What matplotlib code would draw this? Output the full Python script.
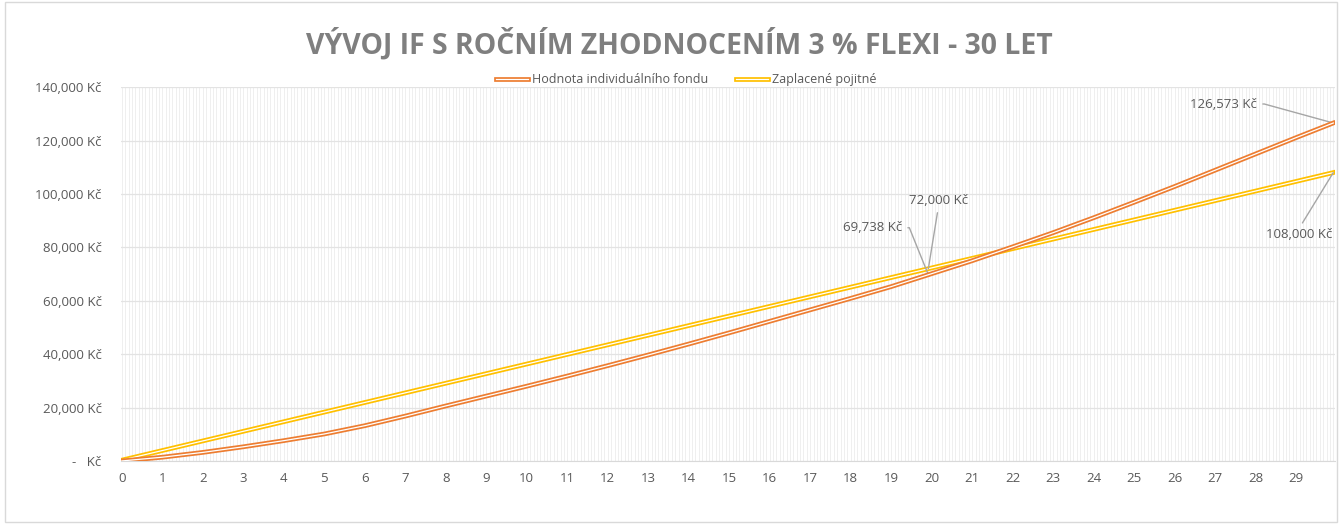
import matplotlib
matplotlib.use('Agg')
import matplotlib.pyplot as plt
import matplotlib.patheffects as pe
from matplotlib.ticker import MultipleLocator, FuncFormatter
from matplotlib.patches import Rectangle

# months since start (x axis shown in years)
months = [0, 12, 24, 36, 48, 60, 72, 84, 96, 108, 120, 132, 144, 156, 168, 180,
          192, 204, 216, 228, 239, 252, 264, 276, 288, 300, 312, 324, 336, 348, 359]
# Hodnota individuálního fondu
fund_value = [0, 1400, 3200, 5300, 7600, 10100, 13200, 16800, 20600, 24300, 28000,
              31800, 35700, 39700, 43800, 48000, 52300, 56600, 60900, 65300, 69738,
              75000, 80200, 85500, 91100, 96900, 102800, 108900, 115000, 121100, 126573]
# Zaplacené pojistné
paid_premium = [300, 3900, 7500, 11100, 14700, 18300, 21900, 25500, 29100, 32700, 36300,
                39900, 43500, 47100, 50700, 54300, 57900, 61500, 65100, 68700, 72000,
                75900, 79500, 83100, 86700, 90300, 93900, 97500, 101100, 104700, 108000]
year_ticks = list(range(0, 30))
series_names = ['Hodnota individuálního fondu', 'Zaplacené pojitné']

ORANGE = '#ED7D31'
YELLOW = '#FFC000'
TEXT = '#595959'

plt.rcParams['font.family'] = ['Open Sans', 'DejaVu Sans']

fig = plt.figure(figsize=(13.4, 5.25), dpi=100)
fig.patches.append(Rectangle((0.004, 0.006), 0.994, 0.99, transform=fig.transFigure,
                             fill=False, edgecolor='#D9D9D9', linewidth=1))
ax = fig.add_axes([0.0903, 0.122, 0.9057, 0.712])

years = [m / 12 for m in months]


def double_line(color):
    # Excel "double" compound line: thick coloured stroke with a thin white core
    return [pe.Stroke(linewidth=3.4, foreground=color), pe.Normal()]


l1, = ax.plot(years, fund_value, color='white', linewidth=0.9,
              path_effects=double_line(ORANGE), label=series_names[0], zorder=4)
l2, = ax.plot(years, paid_premium, color='white', linewidth=0.9,
              path_effects=double_line(YELLOW), label=series_names[1], zorder=3)

ax.set_xlim(-0.02, 29.95)
ax.set_ylim(0, 140000)
ax.xaxis.set_minor_locator(MultipleLocator(1 / 12))
ax.yaxis.set_major_locator(MultipleLocator(20000))
ax.set_xticks(year_ticks)
ax.set_xticklabels([str(y) for y in year_ticks])


def kc(v, pos):
    if v == 0:
        return '-   Kč'
    return f'{v:,.0f} Kč'


ax.yaxis.set_major_formatter(FuncFormatter(kc))
ax.grid(axis='x', which='both', color='#EFEFEF', linewidth=0.7)
ax.grid(axis='y', which='major', color='#E3E3E3', linewidth=0.9)
ax.set_axisbelow(True)
for s in ['top', 'right', 'left']:
    ax.spines[s].set_visible(False)
ax.spines['bottom'].set_color('#D9D9D9')
ax.tick_params(axis='both', which='both', length=0, labelsize=9.5, colors=TEXT, pad=8)
ax.tick_params(axis='y', pad=14)

fig.text(0.507, 0.915, 'VÝVOJ IF S ROČNÍM ZHODNOCENÍM 3 % FLEXI - 30 LET',
         ha='center', va='center', fontsize=20.4, fontweight='bold', color='#7F7F7F')

fig.legend(handles=[l1, l2], loc='center', bbox_to_anchor=(0.512, 0.848), ncol=2,
           frameon=False, fontsize=9, labelcolor=TEXT, handlelength=2.6,
           columnspacing=2.2, handletextpad=0.3)

lead = dict(arrowstyle='-', color='#A6A6A6', linewidth=1, shrinkA=2, shrinkB=0)
elbow = 'arc,angleA=0,armA=7,angleB=90,armB=0,rad=0'
i20 = months.index(239)
ax.annotate(f'{fund_value[i20]:,} Kč', xy=(years[i20], fund_value[i20]),
            xytext=(-26, 47), textcoords='offset pixels', ha='right', va='center',
            fontsize=9.5, color=TEXT,
            arrowprops=dict(lead, relpos=(1, 0.5), connectionstyle=elbow))
ax.annotate(f'{paid_premium[i20]:,} Kč', xy=(years[i20], paid_premium[i20]),
            xytext=(10, 68), textcoords='offset pixels', ha='center', va='center',
            fontsize=9.5, color=TEXT, arrowprops=dict(lead, relpos=(0.5, 0)))
ax.annotate(f'{fund_value[-1]:,} Kč', xy=(years[-1], fund_value[-1]),
            xytext=(-76, 19), textcoords='offset pixels', ha='right', va='center',
            fontsize=9.5, color=TEXT,
            arrowprops=dict(lead, relpos=(1, 0.5), connectionstyle=elbow))
ax.annotate(f'{paid_premium[-1]:,} Kč', xy=(years[-1], paid_premium[-1]),
            xytext=(-34, -62), textcoords='offset pixels', ha='center', va='center',
            fontsize=9.5, color=TEXT, arrowprops=dict(lead, relpos=(0.5, 1)))

fig.savefig('out.png', dpi=100)
